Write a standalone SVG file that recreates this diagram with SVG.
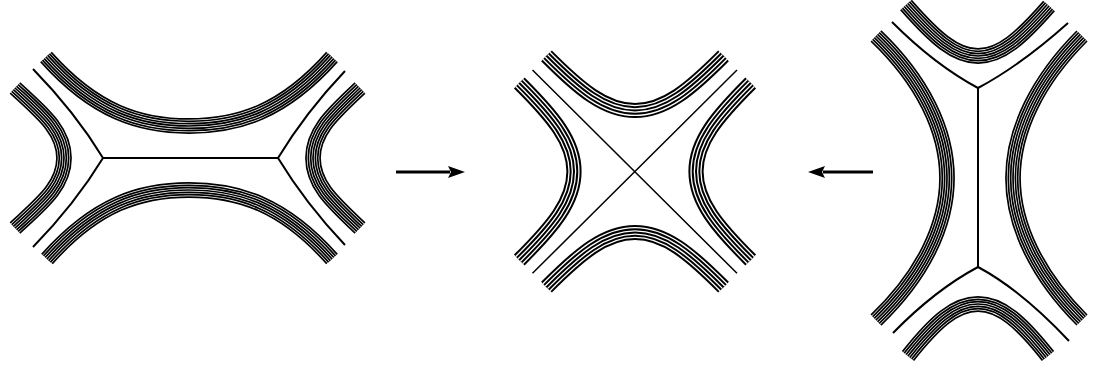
<svg xmlns="http://www.w3.org/2000/svg" xmlns:xlink="http://www.w3.org/1999/xlink" width="1096" height="369" viewBox="0 0 1096 369">
<style>
path, use { fill: none; stroke-linecap: butt; stroke-linejoin: round; }
.ln { stroke: #000; stroke-width: 2; fill: none; }
.thin { stroke: #000; stroke-width: 1.5; fill: none; }
.arrow { stroke: #000; stroke-width: 3.2; fill: none; marker-end: url(#head); }
.dk1 { stroke: #000; stroke-width: 15.8; }
.dw1 { stroke: #fff; stroke-width: 12.4; }
.dk2 { stroke: #000; stroke-width: 11.1; }
.dw2 { stroke: #fff; stroke-width: 7.7; }
.dk3 { stroke: #000; stroke-width: 6.4; }
.dw3 { stroke: #fff; stroke-width: 3; }
.dk4 { stroke: #000; stroke-width: 1.7; }
.sk1 { stroke: #000; stroke-width: 15.2; }
.sw1 { stroke: #fff; stroke-width: 11.2; }
.sk2 { stroke: #000; stroke-width: 8.6; }
.sw2 { stroke: #fff; stroke-width: 4.6; }
.sk3 { stroke: #000; stroke-width: 2; }
</style>
<defs>
<marker id="head" markerUnits="userSpaceOnUse" viewBox="0 0 17 12" markerWidth="17" markerHeight="12" refX="2" refY="6" orient="auto">
<path d="M0,0 L17,6 L0,12 L3,6 Z" style="fill:#000;stroke:none"/>
</marker>
<path id="p1top" d="M46,57 C95,112 140,126 189,126 C238,126 283,112 332,57"/>
<path id="p1bot" d="M47,259 C96,204 140,190 189,190 C238,190 283,204 332,259"/>
<path id="p1left" d="M15,88 C41,112 64,130 64,158 C64,186 41,204 15,228"/>
<path id="p1right" d="M360,88 C335,112 313,130 313,158 C313,186 335,204 360,228"/>
<path id="p2arm" d="M-88.5,-115.7 C-55,-82 -30,-61 0,-61 C30,-61 55,-82 88.5,-115.7"/>
<path id="p3top" d="M906,5 C935,38 955,56 978,56 C1001,56 1021,38 1049,6"/>
<path id="p3bot" d="M908,356 C935,322 955,304 978,304 C1001,304 1021,322 1048,356"/>
<path id="p3left" d="M876,36 C922,80 947,130 947,178 C947,226 922,276 876,320"/>
<path id="p3right" d="M1082,36 C1038,80 1013,130 1013,178 C1013,226 1038,276 1082,320"/>
<g id="sparse-arm"><use href="#p2arm" class="sk1"/><use href="#p2arm" class="sw1"/><use href="#p2arm" class="sk2"/><use href="#p2arm" class="sw2"/><use href="#p2arm" class="sk3"/></g>
</defs>

<g id="panel-left">
<g id="left-top-family"><use href="#p1top" class="dk1"/><use href="#p1top" class="dw1"/><use href="#p1top" class="dk2"/><use href="#p1top" class="dw2"/><use href="#p1top" class="dk3"/><use href="#p1top" class="dw3"/><use href="#p1top" class="dk4"/></g>
<g id="left-bottom-family"><use href="#p1bot" class="dk1"/><use href="#p1bot" class="dw1"/><use href="#p1bot" class="dk2"/><use href="#p1bot" class="dw2"/><use href="#p1bot" class="dk3"/><use href="#p1bot" class="dw3"/><use href="#p1bot" class="dk4"/></g>
<g id="left-left-family"><use href="#p1left" class="dk1"/><use href="#p1left" class="dw1"/><use href="#p1left" class="dk2"/><use href="#p1left" class="dw2"/><use href="#p1left" class="dk3"/><use href="#p1left" class="dw3"/><use href="#p1left" class="dk4"/></g>
<g id="left-right-family"><use href="#p1right" class="dk1"/><use href="#p1right" class="dw1"/><use href="#p1right" class="dk2"/><use href="#p1right" class="dw2"/><use href="#p1right" class="dk3"/><use href="#p1right" class="dw3"/><use href="#p1right" class="dk4"/></g>
<path id="left-skeleton" class="ln" d="M33,69 Q75,112 103,158 Q75,204 33,247 M103,158 H278 M345,71 Q306,112 278,158 Q306,204 345,245"/>
</g>

<g id="panel-middle" transform="translate(635,171.5)">
<g id="mid-top-family"><use href="#sparse-arm"/></g>
<g id="mid-right-family" transform="rotate(90)"><use href="#sparse-arm"/></g>
<g id="mid-bottom-family" transform="rotate(180)"><use href="#sparse-arm"/></g>
<g id="mid-left-family" transform="rotate(270)"><use href="#sparse-arm"/></g>
<path id="mid-cross" class="thin" d="M-102.5,-101.5 L102,101.8 M102,-101.5 L-102.5,101.8"/>
</g>

<g id="panel-right">
<g id="right-top-family"><use href="#p3top" class="dk1"/><use href="#p3top" class="dw1"/><use href="#p3top" class="dk2"/><use href="#p3top" class="dw2"/><use href="#p3top" class="dk3"/><use href="#p3top" class="dw3"/><use href="#p3top" class="dk4"/></g>
<g id="right-bottom-family"><use href="#p3bot" class="dk1"/><use href="#p3bot" class="dw1"/><use href="#p3bot" class="dk2"/><use href="#p3bot" class="dw2"/><use href="#p3bot" class="dk3"/><use href="#p3bot" class="dw3"/><use href="#p3bot" class="dk4"/></g>
<g id="right-left-family"><use href="#p3left" class="dk1"/><use href="#p3left" class="dw1"/><use href="#p3left" class="dk2"/><use href="#p3left" class="dw2"/><use href="#p3left" class="dk3"/><use href="#p3left" class="dw3"/><use href="#p3left" class="dk4"/></g>
<g id="right-right-family"><use href="#p3right" class="dk1"/><use href="#p3right" class="dw1"/><use href="#p3right" class="dk2"/><use href="#p3right" class="dw2"/><use href="#p3right" class="dk3"/><use href="#p3right" class="dw3"/><use href="#p3right" class="dk4"/></g>
<path id="right-skeleton" class="ln" d="M892,22 Q935,65 978,88 Q1021,65 1068,23 M978,88 V267 M893,333 Q935,290 978,267 Q1021,290 1069,341"/>
</g>

<g id="connectors">
<path class="arrow" d="M396,172 H450"/>
<path class="arrow" d="M873,172 H823"/>
</g>
</svg>
